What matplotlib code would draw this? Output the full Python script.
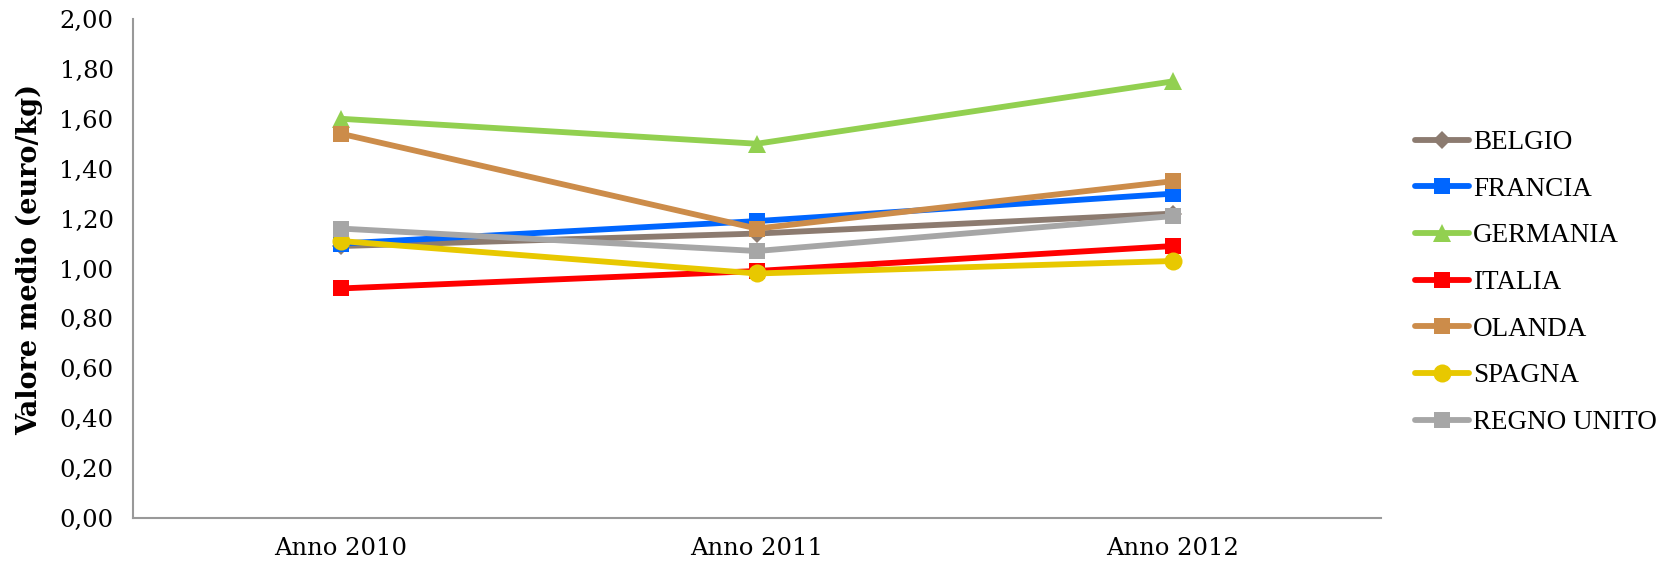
import matplotlib
matplotlib.use("Agg")
import matplotlib.pyplot as plt
from matplotlib.ticker import FuncFormatter

years = ["Anno 2010", "Anno 2011", "Anno 2012"]
countries = ["BELGIO", "FRANCIA", "GERMANIA", "ITALIA", "OLANDA", "SPAGNA", "REGNO UNITO"]
belgio = [1.09, 1.14, 1.22]
francia = [1.10, 1.19, 1.30]
germania = [1.60, 1.50, 1.75]
italia = [0.92, 0.99, 1.09]
olanda = [1.54, 1.16, 1.35]
spagna = [1.11, 0.98, 1.03]
regno_unito = [1.16, 1.07, 1.21]

series = [belgio, francia, germania, italia, olanda, spagna, regno_unito]
colors = ["#8C7B70", "#0066FF", "#92D050", "#FF0000", "#CC8C4A", "#E8C800", "#A6A6A6"]
markers = ["D", "s", "^", "s", "s", "o", "s"]
msizes = [9, 12, 13, 12, 12, 13, 12]

fig = plt.figure(figsize=(16.65, 5.65), dpi=100)
ax = fig.add_axes([0.0799, 0.0832, 0.7495, 0.8832])

x = list(range(len(years)))
for name, vals, c, m, ms in zip(countries, series, colors, markers, msizes):
    ax.plot(x, vals, color=c, lw=4.2, marker=m, markersize=ms,
            markeredgewidth=0, label=name, solid_capstyle="round")

ax.set_xlim(-0.5, 2.5)
ax.set_ylim(0, 2.0)
ax.set_yticks([i * 0.2 for i in range(11)])
ax.yaxis.set_major_formatter(FuncFormatter(lambda v, p: f"{v:.2f}".replace(".", ",")))
ax.set_xticks(x)
ax.set_xticklabels(years)
ax.tick_params(axis="both", length=0, labelsize=17.5)
for lab in ax.get_xticklabels() + ax.get_yticklabels():
    lab.set_family("DejaVu Serif")
ax.tick_params(axis="x", pad=13.5)
ax.tick_params(axis="y", pad=14)

for s in ["top", "right"]:
    ax.spines[s].set_visible(False)
for s in ["left", "bottom"]:
    ax.spines[s].set_color("#999999")
    ax.spines[s].set_linewidth(1.5)

ax.set_ylabel("Valore medio (euro/kg)", family="DejaVu Serif", fontsize=19.5,
              fontweight="bold")
ax.yaxis.set_label_coords(-0.072, 0.519)

leg = fig.legend(loc="center left", bbox_to_anchor=(0.835, 0.5), frameon=False,
                 prop={"family": "Liberation Serif", "size": 19.5},
                 handlelength=2.0, labelspacing=0.8, handletextpad=0.15)

fig.savefig("out.png", dpi=100)
